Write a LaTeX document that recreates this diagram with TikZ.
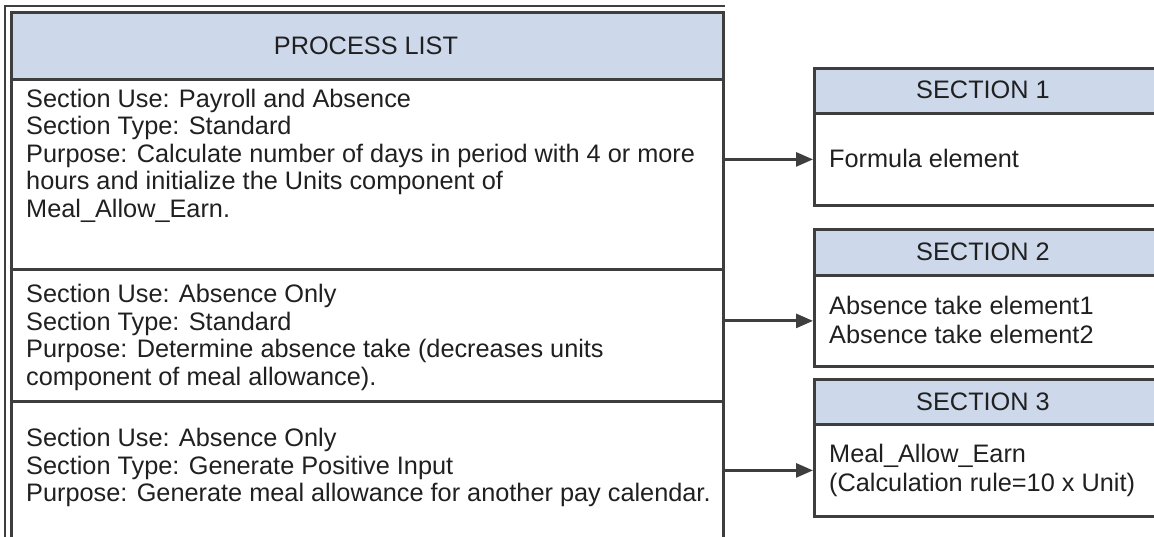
\documentclass[tikz,border=0pt]{standalone}
\usepackage{fontspec}
\setmainfont{Liberation Sans}
\usetikzlibrary{arrows.meta}
\definecolor{hdrblue}{RGB}{205,217,235}
\definecolor{edgec}{RGB}{62,62,62}
\definecolor{txtc}{RGB}{32,32,32}
\begin{document}
\begin{tikzpicture}[x=1pt,y=-1pt,
  box/.style={draw=edgec,line width=2.8pt,rectangle,inner sep=0pt,anchor=north west},
  hdrbox/.style={box,fill=hdrblue},
  bodybox/.style={box,fill=white},
  ltext/.style={anchor=base west,align=left,inner sep=0pt,text=txtc,font=\fontsize{25.3}{27.5}\selectfont},
  rtext/.style={anchor=base west,align=left,inner sep=0pt,text=txtc,font=\fontsize{25.3}{29.3}\selectfont},
  htext/.style={anchor=base,inner sep=0pt,text=txtc,font=\fontsize{25.3}{29}\selectfont},
  conn/.style={draw=edgec,line width=2.8pt,-{Triangle[length=17pt,width=14pt]}}
]
\useasboundingbox (0,0) rectangle (1154,537);
\fill[white] (0,0) rectangle (1154,537);
\draw[line width=1.2pt,edgec] (5,560) -- (5,6) -- (725,6);

% process list
\node[hdrbox,minimum width=712pt,minimum height=67pt] (plh) at (10,11) {};
\node[bodybox,minimum width=712pt,minimum height=190pt] (r1) at (10,78) {};
\node[bodybox,minimum width=712pt,minimum height=132pt] (r2) at (10,268) {};
\node[bodybox,minimum width=712pt,minimum height=160pt] (r3) at (10,400) {};
\node[htext] (plt) at (366,55) {PROCESS LIST};

% multi-line texts are placed by the baseline of their last line
\node[ltext] (r1t) at (26,217.5) {Section Use: Payroll and Absence\\Section Type: Standard\\Purpose: Calculate number of days in period with 4 or more\\hours and initialize the Units component of\\Meal\_Allow\_Earn.};
\node[ltext] (r2t) at (26,385) {Section Use: Absence Only\\Section Type: Standard\\Purpose: Determine absence take (decreases units\\component of meal allowance).};
\node[ltext] (r3t) at (26,501.5) {Section Use: Absence Only\\Section Type: Generate Positive Input\\Purpose: Generate meal allowance for another pay calendar.};

% sections
\node[hdrbox,minimum width=360pt,minimum height=45pt] (s1h) at (813,67) {};
\node[bodybox,minimum width=360pt,minimum height=92pt] (s1b) at (813,112) {};
\node[htext] (s1t) at (983,99) {SECTION 1};
\node[rtext] (s1c) at (829,167.5) {Formula element};

\node[hdrbox,minimum width=360pt,minimum height=46pt] (s2h) at (813,228) {};
\node[bodybox,minimum width=360pt,minimum height=91pt] (s2b) at (813,274) {};
\node[htext] (s2t) at (983,261) {SECTION 2};
\node[rtext] (s2c) at (829,343.5) {Absence take element1\\Absence take element2};

\node[hdrbox,minimum width=360pt,minimum height=45pt] (s3h) at (813,378) {};
\node[bodybox,minimum width=360pt,minimum height=92pt] (s3b) at (813,423) {};
\node[htext] (s3t) at (983,410) {SECTION 3};
\node[rtext] (s3c) at (829,491.5) {Meal\_Allow\_Earn\\(Calculation rule=10 x Unit)};

% connectors
\draw[conn] (s1b.west -| r1.east) -- (s1b.west);
\draw[conn] (s2b.west -| r2.east) -- (s2b.west);
\draw[conn] (s3b.west -| r3.east) -- (s3b.west);
\end{tikzpicture}
\end{document}
